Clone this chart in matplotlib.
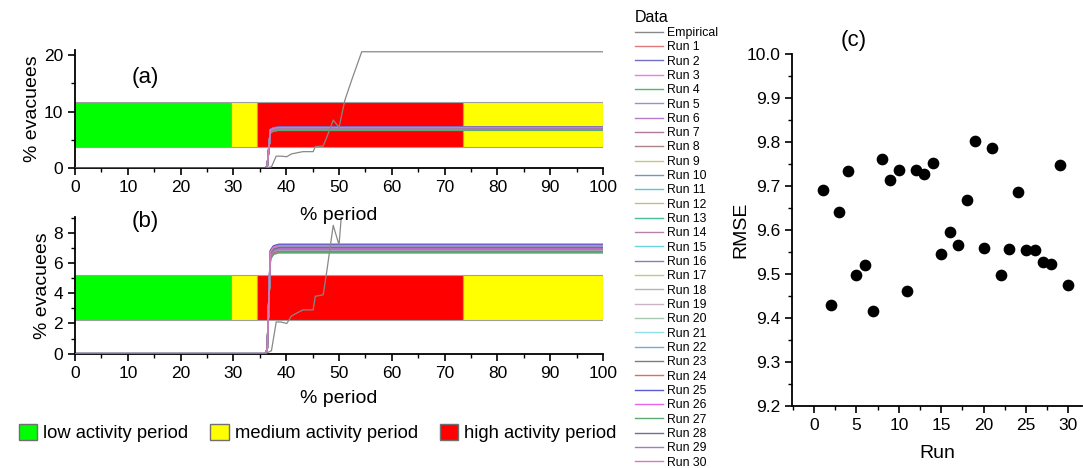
import matplotlib.pyplot as plt
from matplotlib.patches import Patch
from matplotlib.lines import Line2D
from matplotlib.ticker import MultipleLocator

# activity periods (% period)
period_edges = [0, 29.5, 34.5, 73.5, 100]
period_names = ["low", "medium", "high", "medium"]
period_colors = {"low": "#00ff00", "medium": "#ffff00", "high": "#ff0000"}
band_a = (3.7, 11.7)
band_b = (2.25, 5.23)

# empirical evacuation curve
emp_x = [0, 36.0, 36.6, 37.2, 38.1, 39.0, 40.1, 41.0, 42.6, 43.2, 45.1, 45.5,
         47.0, 47.7, 48.9, 50.0, 51.1, 52.4, 54.3, 100]
emp_y = [0, 0, 0.1, 0.2, 2.1, 2.1, 2.0, 2.5, 2.8, 2.9, 2.9, 3.8,
         3.9, 5.5, 8.5, 7.2, 12.0, 15.6, 20.6, 20.6]

# simulation runs: value just after the jump and final value
run_names = ["Run %d" % i for i in range(1, 31)]
run_jump = [6.35, 6.70, 6.50, 6.40, 6.80, 6.30, 6.60, 6.45, 6.70, 6.50,
            6.35, 6.75, 6.30, 6.60, 6.45, 6.80, 6.40, 6.55, 6.65, 6.40,
            6.50, 6.70, 6.35, 6.30, 6.85, 6.55, 6.25, 6.60, 6.45, 6.75]
run_final = [6.78, 7.18, 6.95, 6.84, 7.22, 6.70, 7.05, 6.88, 7.12, 6.92,
             6.80, 7.15, 6.74, 7.00, 6.90, 7.20, 6.86, 6.98, 7.08, 6.82,
             6.94, 7.10, 6.76, 6.72, 7.24, 6.96, 6.68, 7.02, 6.89, 7.16]
run_colors = ["#e07a7a", "#6f6fc8", "#ec7aec", "#4cb870", "#9494cc", "#b878cc",
              "#b07aa0", "#a88484", "#c4c484", "#7098c0", "#5cc8c8", "#ccb890",
              "#4cbc98", "#b880a8", "#6cd4e0", "#8080c0", "#b8cc84", "#b4b4b4",
              "#c8b4c8", "#a8c8b4", "#90dce8", "#7ca8cc", "#7c7c7c", "#ec6464",
              "#5a5ad0", "#ec64ec", "#5ca874", "#70708c", "#a47cb8", "#d47cb8"]

# RMSE per run
rmse_run = list(range(1, 31))
rmse = [9.690, 9.430, 9.641, 9.733, 9.497, 9.520, 9.417, 9.761, 9.714, 9.736,
        9.461, 9.736, 9.728, 9.753, 9.546, 9.595, 9.566, 9.669, 9.802, 9.559,
        9.786, 9.497, 9.556, 9.687, 9.555, 9.555, 9.527, 9.522, 9.748, 9.475]

# run curve knots (% period)
run_knots = [0, 36.0, 36.4, 37.0, 37.6, 38.6, 100]

plt.rcParams['font.family'] = ['Liberation Sans', 'DejaVu Sans']

fig = plt.figure(figsize=(10.83, 4.68), dpi=100)
ax_a = fig.add_axes([0.0693, 0.641, 0.4875, 0.252])
ax_b = fig.add_axes([0.0693, 0.2442, 0.4875, 0.2928])
ax_c = fig.add_axes([0.7313, 0.1325, 0.2678, 0.7521])


def draw_panel(ax, band, ymax, ymajor, yminor):
    for i, name in enumerate(period_names):
        ax.barh((band[0] + band[1]) / 2, period_edges[i + 1] - period_edges[i],
                left=period_edges[i], height=band[1] - band[0],
                color=period_colors[name], edgecolor="#a0a0a0", linewidth=0.8, zorder=1)
    ax.plot(emp_x, emp_y, color="#888888", lw=0.9, zorder=3)
    for j in range(len(run_names)):
        ys = [0, 0, 0.3, run_jump[j], run_final[j] - 0.1, run_final[j], run_final[j]]
        ax.plot(run_knots, ys, color=run_colors[j], lw=1.1, zorder=2)
    ax.set_xlim(0, 100)
    ax.set_ylim(0, ymax)
    ax.xaxis.set_major_locator(MultipleLocator(10))
    ax.xaxis.set_minor_locator(MultipleLocator(5))
    ax.yaxis.set_major_locator(MultipleLocator(ymajor))
    ax.yaxis.set_minor_locator(MultipleLocator(yminor))
    for s in ["top", "right"]:
        ax.spines[s].set_visible(False)
    ax.spines["left"].set_linewidth(1.3)
    ax.spines["bottom"].set_linewidth(1.3)
    ax.tick_params(which="major", direction="out", length=5, width=1.2, labelsize=12.5)
    ax.tick_params(which="minor", direction="out", length=3, width=1.0)
    ax.set_ylabel("% evacuees", fontsize=14, labelpad=2)


draw_panel(ax_a, band_a, 20.9, 10, 5)
draw_panel(ax_b, band_b, 9.07, 2, 1)

fig.text(0.134, 0.835, "(a)", fontsize=16, ha="center", va="center")
fig.text(0.134, 0.527, "(b)", fontsize=16, ha="center", va="center")
fig.text(0.313, 0.54, "% period", fontsize=14, ha="center", va="center")
fig.text(0.313, 0.148, "% period", fontsize=14, ha="center", va="center")

# scatter (c)
ax_c.scatter(rmse_run, rmse, s=55, color="black", zorder=3)
ax_c.set_xlim(-2.6, 31.6)
ax_c.set_ylim(9.2, 10.0)
ax_c.xaxis.set_major_locator(MultipleLocator(5))
ax_c.xaxis.set_minor_locator(MultipleLocator(2.5))
ax_c.yaxis.set_major_locator(MultipleLocator(0.1))
ax_c.yaxis.set_minor_locator(MultipleLocator(0.05))
ax_c.yaxis.set_major_formatter(plt.FormatStrFormatter("%.1f"))
for s in ["top", "right"]:
    ax_c.spines[s].set_visible(False)
ax_c.spines["left"].set_linewidth(1.3)
ax_c.spines["bottom"].set_linewidth(1.3)
ax_c.tick_params(which="major", direction="out", length=5, width=1.2, labelsize=12.5)
ax_c.tick_params(which="minor", direction="out", length=3, width=1.0)
ax_c.set_xlabel("Run", fontsize=14, labelpad=9)
ax_c.set_ylabel("RMSE", fontsize=14, labelpad=-2)
fig.text(0.788, 0.914, "(c)", fontsize=16, ha="center", va="center")

# line legend
handles = [Line2D([], [], color="#888888", lw=1.0)]
handles += [Line2D([], [], color=c, lw=1.0) for c in run_colors]
labels = ["Empirical"] + run_names
leg = fig.legend(handles, labels, loc="upper left", bbox_to_anchor=(0.582, 0.99),
                 frameon=False, fontsize=8.8, title="Data", title_fontsize=11.5,
                 labelspacing=0.19, handlelength=2.3, handletextpad=0.3,
                 borderaxespad=0.2, borderpad=0.2)
leg._legend_box.align = "left"

# period legend
patches = [Patch(facecolor=period_colors[k], edgecolor="#707070", label=k + " activity period")
           for k in ["low", "medium", "high"]]
fig.legend(handles=patches, loc="center left", bbox_to_anchor=(0.002, 0.075),
           ncol=3, frameon=False, fontsize=13.2, handlelength=1.0, handleheight=1.0,
           handletextpad=0.33, columnspacing=1.2)

fig.savefig("out.png", dpi=100)
